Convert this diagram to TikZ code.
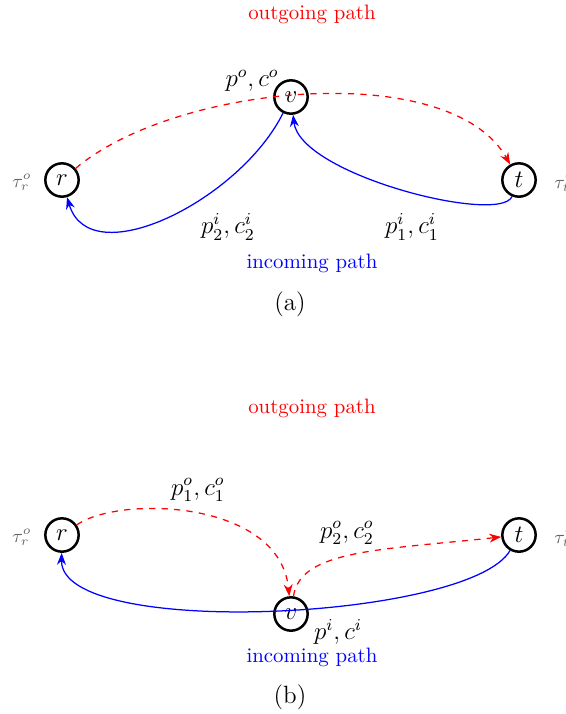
\documentclass[tikz,border=0pt]{standalone}
\usepackage{tikz}
\usetikzlibrary{positioning,arrows.meta}

\begin{document}
\begin{tikzpicture}[x=0.48pt, y=-0.48pt, >=Stealth,
    vtx/.style={circle, draw, very thick, minimum size=16pt, inner sep=0pt, font=\large},
    outp/.style={red, semithick, dashed},
    inp/.style={blue, semithick},
    tau/.style={gray!80!black, font=\small},
    lbl/.style={font=\large}]
    \useasboundingbox (0,0) rectangle (566,714);

    % (a) one outgoing path, two incoming paths
    \node[vtx] (ra) at (62,180) {$r$};
    \node[vtx] (va) at (291,97) {$v$};
    \node[vtx] (ta) at (519,180) {$t$};

    \node[tau] (taura) at (22,182) {$\tau_r^o$};
    \node[tau, right] (tauta) at (547,182) {$\tau_t^i$};

    \node[red] (outa) at (312,14) {outgoing path};
    \node[blue] (ina) at (312,263) {incoming path};

    \draw[outp,->] (ra) .. controls (175,84) and (450,58) .. (ta);
    \draw[inp,->] (va) .. controls (240,200) and (90,275) .. (ra);
    \draw[inp,->] (ta) .. controls (500,225) and (300,175) .. (va);

    \node[lbl] (poa) at (252,81) {$p^o, c^o$};
    \node[lbl] (p2a) at (228,227) {$p_2^i, c_2^i$};
    \node[lbl] (p1a) at (412,227) {$p_1^i, c_1^i$};

    \node[font=\large] (capa) at (290,304) {(a)};

    % (b) two outgoing paths, one incoming path
    \node[vtx] (rb) at (62,535) {$r$};
    \node[vtx] (vb) at (291,614) {$v$};
    \node[vtx] (tb) at (519,535) {$t$};

    \node[tau] (taurb) at (22,537) {$\tau_r^o$};
    \node[tau, right] (tautb) at (547,537) {$\tau_t^i$};

    \node[red] (outb) at (312,408) {outgoing path};
    \node[blue] (inb) at (312,657) {incoming path};

    \draw[outp,->] (rb) .. controls (120,495) and (280,500) .. (vb);
    \draw[outp,->] (vb) .. controls (300,550) and (380,550) .. (tb);
    \draw[inp,->] (tb) .. controls (470,620) and (60,640) .. (rb);

    \node[lbl] (p1b) at (198,490) {$p_1^o, c_1^o$};
    \node[lbl] (p2b) at (347,533) {$p_2^o, c_2^o$};
    \node[lbl] (pib) at (338,632) {$p^i, c^i$};

    \node[font=\large] (capb) at (290,697) {(b)};
\end{tikzpicture}
\end{document}
